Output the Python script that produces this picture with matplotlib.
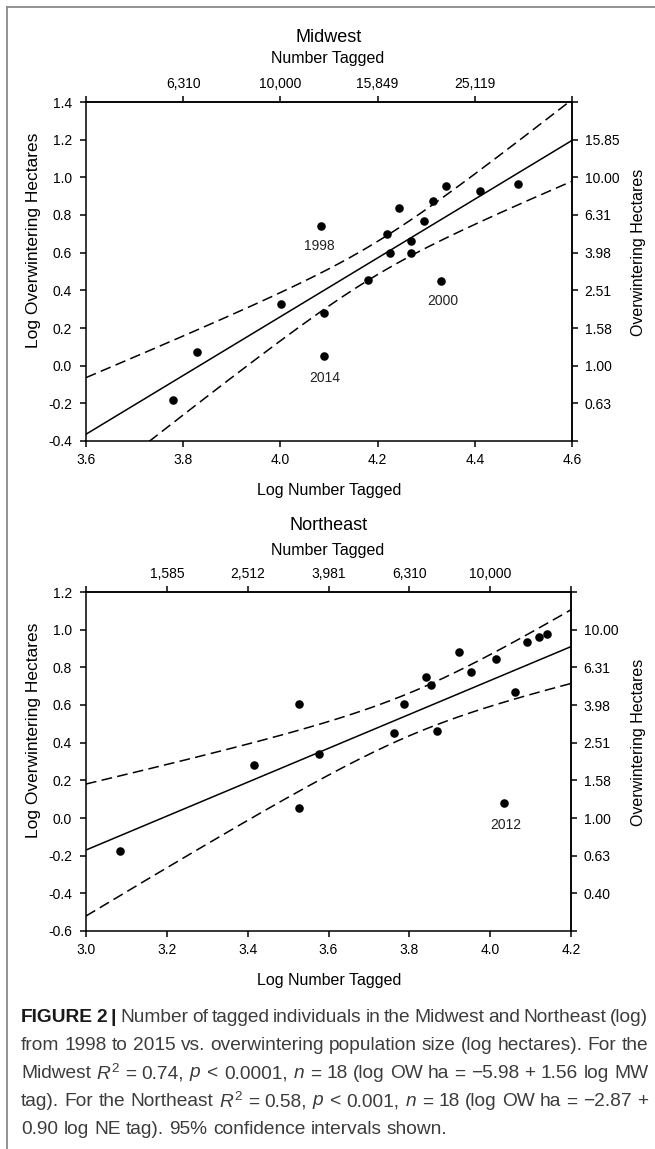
import numpy as np
import matplotlib
matplotlib.use("Agg")
import matplotlib.pyplot as plt
from matplotlib.lines import Line2D

plt.rcParams["font.family"] = ["Liberation Sans", "DejaVu Sans"]
plt.rcParams["axes.unicode_minus"] = False
plt.rcParams["mathtext.fontset"] = "custom"
plt.rcParams["mathtext.rm"] = "Liberation Sans"
plt.rcParams["mathtext.it"] = "Liberation Sans:italic"

# ---------------------------------------------------------------
# data
# ---------------------------------------------------------------
mw_log_tagged = [3.780, 3.828, 4.001, 4.083, 4.089, 4.090, 4.180, 4.220, 4.225,
                 4.245, 4.269, 4.268, 4.295, 4.314, 4.341, 4.330, 4.410, 4.488]
mw_log_ha = [-0.18, 0.07, 0.33, 0.74, 0.28, 0.05, 0.455, 0.70, 0.60,
             0.835, 0.66, 0.60, 0.77, 0.875, 0.955, 0.45, 0.93, 0.965]

ne_log_tagged = [3.084, 3.416, 3.528, 3.526, 3.576, 3.761, 3.788, 3.842, 3.854,
                 3.868, 3.923, 3.953, 4.015, 4.061, 4.034, 4.092, 4.122, 4.141]
ne_log_ha = [-0.175, 0.284, 0.605, 0.052, 0.341, 0.452, 0.605, 0.748, 0.706,
             0.463, 0.881, 0.777, 0.842, 0.667, 0.077, 0.933, 0.959, 0.975]

# regression from caption: (intercept, slope)
mw_fit = (-5.98, 1.56)
ne_fit = (-2.87, 0.90)
T_CRIT = 2.12  # t(0.975, df=16)

# labelled years: (text, x, y)
mw_notes = [("1998", 4.081, 0.635), ("2000", 4.335, 0.343), ("2014", 4.092, -0.066)]
ne_notes = [("2012", 4.039, -0.038)]

# axes ticks / labels
mw_xticks = [3.6, 3.8, 4.0, 4.2, 4.4, 4.6]
mw_yticks = [-0.4, -0.2, 0.0, 0.2, 0.4, 0.6, 0.8, 1.0, 1.2, 1.4]
mw_top_labels = ["", "6,310", "10,000", "15,849", "25,119", ""]
mw_right_labels = ["", "0.63", "1.00", "1.58", "2.51", "3.98", "6.31", "10.00", "15.85", ""]

ne_xticks = [3.0, 3.2, 3.4, 3.6, 3.8, 4.0, 4.2]
ne_yticks = [-0.6, -0.4, -0.2, 0.0, 0.2, 0.4, 0.6, 0.8, 1.0, 1.2]
ne_top_labels = ["", "1,585", "2,512", "3,981", "6,310", "10,000", ""]
ne_right_labels = ["", "0.40", "0.63", "1.00", "1.58", "2.51", "3.98", "6.31", "10.00", ""]

caption_lines = [
    "FIGURE 2 | Number of tagged individuals in the Midwest and Northeast (log)",
    "from 1998 to 2015 vs. overwintering population size (log hectares). For the",
    "Midwest $R^2$ = 0.74, $p$ < 0.0001, $n$ = 18 (log OW ha = \u22125.98 + 1.56 log MW",
    "tag). For the Northeast $R^2$ = 0.58, $p$ < 0.001, $n$ = 18 (log OW ha = \u22122.87 +",
    "0.90 log NE tag). 95% confidence intervals shown.",
]

W, H = 655, 1149
fig = plt.figure(figsize=(W / 100, H / 100), dpi=100)


def fx(px):
    return px / W


def fy(py):
    return 1 - py / H


def panel(box, xs, ys, fit, xticks, yticks, top_labels, right_labels, notes):
    left, top, right, bottom = box
    ax = fig.add_axes([fx(left), fy(bottom), fx(right - left), (bottom - top) / H])
    xlo, xhi = xticks[0], xticks[-1]
    ylo, yhi = yticks[0], yticks[-1]

    xs = np.asarray(xs)
    ys = np.asarray(ys)
    b0, b1 = fit
    n = len(xs)
    resid = ys - (b0 + b1 * xs)
    s = np.sqrt(np.sum(resid ** 2) / (n - 2))
    xm = xs.mean()
    sxx = np.sum((xs - xm) ** 2)

    # fitted line and 95% confidence band
    xg = np.linspace(xlo, xhi, 200)
    yg = b0 + b1 * xg
    hw = T_CRIT * s * np.sqrt(1 / n + (xg - xm) ** 2 / sxx)

    ax.plot(xg, yg, color="black", lw=1.1)
    ax.plot(xg, yg + hw, color="black", lw=1.1, dashes=(7, 3.5))
    ax.plot(xg, yg - hw, color="black", lw=1.1, dashes=(7, 3.5))
    ax.scatter(xs, ys, s=38, color="black", zorder=3, linewidths=0)

    for txt, tx, ty in notes:
        ax.text(tx, ty, txt, fontsize=10, ha="center", va="center", color="#222222")

    ax.set_xlim(xlo, xhi)
    ax.set_ylim(ylo, yhi)
    ax.set_xticks(xticks, [f"{v:.1f}" for v in xticks])
    ax.set_yticks(yticks, [f"{v:.1f}" for v in yticks])
    for sp in ax.spines.values():
        sp.set_linewidth(1.1)
    ax.tick_params(direction="out", length=4, width=1.1, labelsize=10, colors="black")
    ax.tick_params(axis="x", pad=5)
    ax.tick_params(axis="y", pad=6)

    sec_x = ax.secondary_xaxis("top")
    sec_x.set_xticks(xticks, top_labels)
    sec_x.tick_params(direction="out", length=4, width=1.1, labelsize=10, pad=4)
    sec_x.spines["top"].set_linewidth(1.1)

    sec_y = ax.secondary_yaxis("right")
    sec_y.set_yticks(yticks, right_labels)
    sec_y.tick_params(direction="out", length=4, width=1.1, labelsize=10, pad=5)
    sec_y.spines["right"].set_linewidth(1.1)
    return ax


def panel_text(title, title_y, top_y, bottom_y, left_y, right_y):
    fig.text(fx(329), fy(title_y), title, fontsize=13, ha="center", va="center")
    fig.text(fx(328), fy(top_y), "Number Tagged", fontsize=11.5, ha="center", va="center")
    fig.text(fx(329), fy(bottom_y), "Log Number Tagged", fontsize=11.5, ha="center", va="center")
    fig.text(fx(34), fy(left_y), "Log Overwintering Hectares", fontsize=12.5,
             rotation=90, ha="center", va="center")
    fig.text(fx(639), fy(right_y), "Overwintering Hectares", fontsize=11.5,
             rotation=90, ha="center", va="center")


panel((86, 102, 572, 441), mw_log_tagged, mw_log_ha, mw_fit,
      mw_xticks, mw_yticks, mw_top_labels, mw_right_labels, mw_notes)
panel_text("Midwest", 37, 58, 491, 240, 252)

panel((86, 592, 571, 931), ne_log_tagged, ne_log_ha, ne_fit,
      ne_xticks, ne_yticks, ne_top_labels, ne_right_labels, ne_notes)
panel_text("Northeast", 526, 551, 980, 730, 742)

# frame around the figure (only left and top edges visible)
fig.add_artist(Line2D([fx(6.5), fx(6.5)], [0, fy(6.5)], color="#8a8a8a", lw=1.3))
fig.add_artist(Line2D([fx(6.5), 1], [fy(6.5), fy(6.5)], color="#8a8a8a", lw=1.3))

# caption, justified line by line
renderer = fig.canvas.get_renderer()
cap_size = 13.8
x_start, x_end = 21, 648
line_y = [1018, 1046, 1074, 1102, 1129]
bold_words = {"FIGURE", "2", "|"}

probe_a = fig.text(0, 0, "xx", fontsize=cap_size)
probe_b = fig.text(0, 0, "x x", fontsize=cap_size)
space_w = probe_b.get_window_extent(renderer).width - probe_a.get_window_extent(renderer).width
probe_a.remove()
probe_b.remove()

for i, (line, ly) in enumerate(zip(caption_lines, line_y)):
    words = line.split(" ")
    texts = []
    for j, w in enumerate(words):
        bold = i == 0 and j < 3 and w in bold_words
        t = fig.text(0, fy(ly), w, fontsize=cap_size, va="center", ha="left",
                     color="#1a1a1a" if bold else "#3c3c3c",
                     fontweight="bold" if bold else "normal")
        texts.append(t)
    widths = [t.get_window_extent(renderer).width for t in texts]
    last = i == len(caption_lines) - 1
    if last or len(words) < 2:
        gap = space_w
    else:
        gap = (x_end - x_start - sum(widths)) / (len(words) - 1)
    x = x_start
    for t, w in zip(texts, widths):
        t.set_x(fx(x))
        x += w + gap

fig.savefig("out.png", dpi=100)
